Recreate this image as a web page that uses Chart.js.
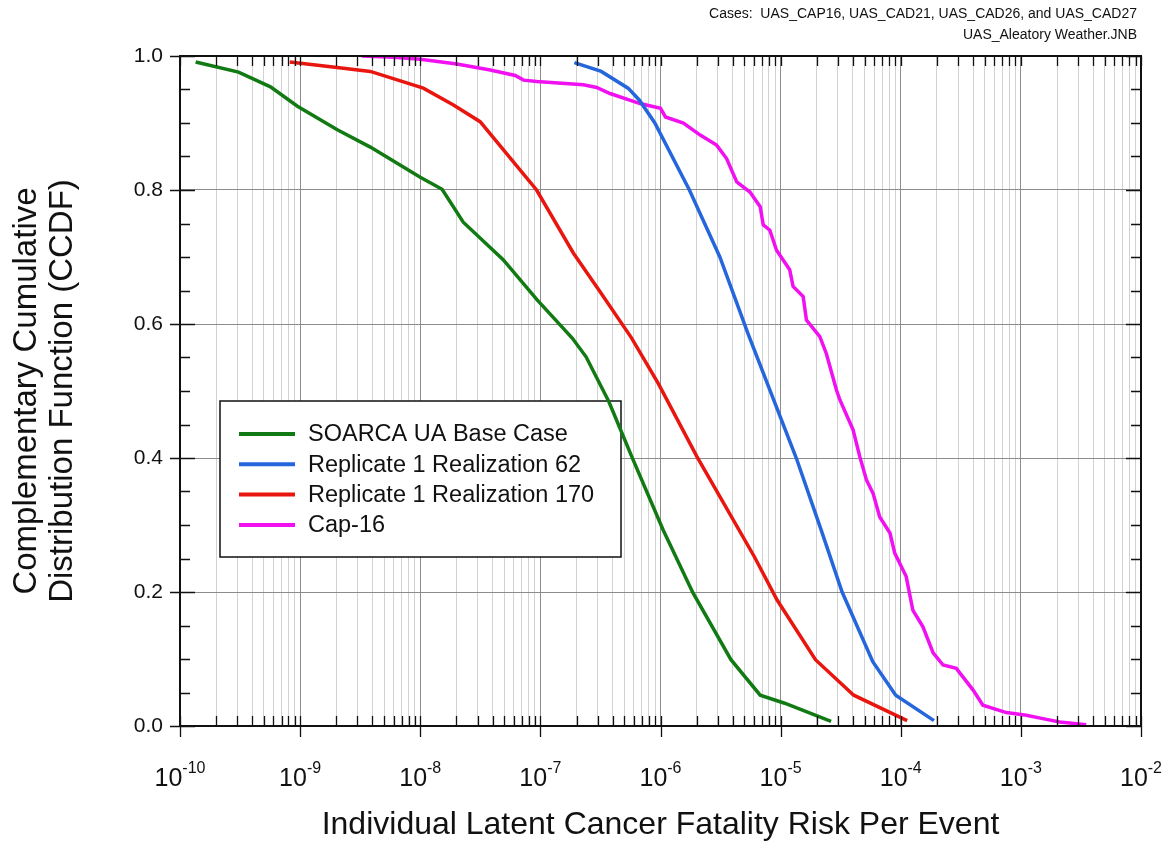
<!DOCTYPE html>
<html>
<head>
<meta charset="utf-8">
<script src="https://cdn.jsdelivr.net/npm/chart.js@4.4.1/dist/chart.umd.min.js"></script>
<style>
  html, body { margin: 0; padding: 0; background: #fff; }
</style>
</head>
<body>
<canvas id="ccdf" width="1172" height="845"></canvas>
<script>
var FONT = "'Liberation Sans', Arial, sans-serif";

// header / axis text
var headerLines = ['Cases:  UAS_CAP16, UAS_CAD21, UAS_CAD26, and UAS_CAD27', 'UAS_Aleatory Weather.JNB'];
var xTitle = 'Individual Latent Cancer Fatality Risk Per Event';
var yTitle = ['Complementary Cumulative', 'Distribution Function (CCDF)'];

// x axis decades (10^exp) and y ticks
var xDecades = [1e-10, 1e-9, 1e-8, 1e-7, 1e-6, 1e-5, 1e-4, 1e-3, 1e-2];
var xExponents = ['-10', '-9', '-8', '-7', '-6', '-5', '-4', '-3', '-2'];
var yTicks = [0, 0.2, 0.4, 0.6, 0.8, 1.0];

var seriesLabels = ['SOARCA UA Base Case', 'Replicate 1 Realization 62', 'Replicate 1 Realization 170', 'Cap-16'];
var seriesColors = ['#127a12', '#2566dc', '#e8160e', '#f010f0'];

// SOARCA UA base case
var baseRisk = [1.35e-10, 3.07e-10, 5.66e-10, 9.5e-10, 2.04e-9, 3.84e-9, 1.0e-8, 1.52e-8, 2.28e-8, 4.9e-8,
  9.4e-8, 1.84e-7, 2.4e-7, 3.72e-7, 5.8e-7, 1.05e-6, 1.86e-6, 3.86e-6, 6.76e-6, 1.08e-5, 2.63e-5];
var baseCcdf = [0.991, 0.976, 0.954, 0.925, 0.89, 0.864, 0.819, 0.801, 0.752, 0.696,
  0.636, 0.579, 0.551, 0.484, 0.401, 0.293, 0.199, 0.099, 0.046, 0.034, 0.007];

// replicate 1 realization 62
var r62Risk = [1.92e-7, 3.21e-7, 5.37e-7, 6.68e-7, 8.97e-7, 1.74e-6, 3.12e-6, 5.37e-6, 1.35e-5, 2.17e-5,
  3.25e-5, 5.85e-5, 9.08e-5, 1.89e-4];
var r62Ccdf = [0.99, 0.977, 0.952, 0.934, 0.9, 0.8, 0.7, 0.585, 0.4, 0.293,
  0.2, 0.096, 0.046, 0.008];

// replicate 1 realization 170
var r170Risk = [8.2e-10, 2.03e-9, 3.84e-9, 1.06e-8, 1.89e-8, 3.15e-8, 4.93e-8, 9.3e-8, 1.88e-7, 3.14e-7,
  5.75e-7, 9.6e-7, 2.01e-6, 3.02e-6, 6.03e-6, 9.35e-6, 1.95e-5, 4.06e-5, 1.13e-4];
var r170Ccdf = [0.991, 0.983, 0.977, 0.952, 0.927, 0.902, 0.86, 0.80, 0.706, 0.648,
  0.579, 0.511, 0.402, 0.347, 0.253, 0.188, 0.099, 0.046, 0.008];

// Cap-16
var capRisk = [3.27e-9, 6.0e-9, 1.0e-8, 2.02e-8, 3.82e-8, 6.17e-8, 7.24e-8, 9.33e-8, 2.28e-7, 2.94e-7,
  3.8e-7, 6.76e-7, 1.0e-6, 1.1e-6, 1.55e-6, 2.14e-6, 2.93e-6, 3.55e-6, 4.31e-6, 5.55e-6,
  6.76e-6, 7.16e-6, 8.13e-6, 9.25e-6, 1.19e-5, 1.27e-5, 1.54e-5, 1.64e-5, 2.12e-5, 2.4e-5,
  2.92e-5, 3.11e-5, 4.01e-5, 4.56e-5, 5.19e-5, 5.89e-5, 6.68e-5, 8.13e-5, 8.91e-5, 1.11e-4,
  1.26e-4, 1.53e-4, 1.86e-4, 2.25e-4, 2.9e-4, 3.99e-4, 4.83e-4, 7.57e-4, 1.11e-3, 1.52e-3,
  2.1e-3, 3.5e-3];
var capCcdf = [1.0, 0.998, 0.995, 0.988, 0.979, 0.971, 0.964, 0.962, 0.957, 0.953,
  0.944, 0.929, 0.922, 0.909, 0.90, 0.882, 0.867, 0.847, 0.812, 0.797,
  0.775, 0.748, 0.74, 0.71, 0.681, 0.656, 0.641, 0.606, 0.581, 0.556,
  0.501, 0.487, 0.442, 0.402, 0.367, 0.347, 0.312, 0.288, 0.258, 0.223,
  0.173, 0.148, 0.109, 0.091, 0.086, 0.054, 0.031, 0.020, 0.016, 0.011,
  0.006, 0.002];

var riskSets = [baseRisk, r62Risk, r170Risk, capRisk];
var ccdfSets = [baseCcdf, r62Ccdf, r170Ccdf, capCcdf];

toPoints = (xs, ys) => xs.map((x, i) => ({ x: x, y: ys[i] }));

isDecade = (v) => {
  var e = Math.log10(v);
  return Math.abs(e - Math.round(e)) < 1e-6;
};

// frame, inside tick marks, x labels, header and legend box
var decorations = {
  id: 'decorations',
  beforeDatasetsDraw(chart) {
    var ctx = chart.ctx;
    var a = chart.chartArea;
    var bx = a.left + 40, by = 401, bw = 401, bh = 156;
    ctx.save();
    ctx.fillStyle = '#fff';
    ctx.fillRect(bx, by, bw, bh);
    ctx.strokeStyle = '#111';
    ctx.lineWidth = 1.5;
    ctx.strokeRect(bx, by, bw, bh);
    ctx.font = '23.5px ' + FONT;
    ctx.textBaseline = 'middle';
    chart.data.datasets.forEach((ds, i) => {
      var yy = by + 33 + i * 30.3;
      ctx.strokeStyle = ds.borderColor;
      ctx.lineWidth = 4;
      ctx.beginPath();
      ctx.moveTo(bx + 19, yy);
      ctx.lineTo(bx + 75, yy);
      ctx.stroke();
      ctx.fillStyle = '#111';
      ctx.fillText(ds.label, bx + 88, yy + 1);
    });
    ctx.restore();
  },
  afterDraw(chart) {
    var ctx = chart.ctx;
    var a = chart.chartArea;
    var xs = chart.scales.x, ys = chart.scales.y;
    ctx.save();
    ctx.strokeStyle = '#111';
    ctx.lineWidth = 1.3;
    ctx.beginPath();
    xs.ticks.forEach((t) => {
      var px = Math.round(xs.getPixelForValue(t.value)) + 0.5;
      ctx.moveTo(px, a.top); ctx.lineTo(px, a.top + 10);
      ctx.moveTo(px, a.bottom); ctx.lineTo(px, a.bottom - 10);
      if (isDecade(t.value)) {
        ctx.moveTo(px, a.bottom); ctx.lineTo(px, a.bottom + 11);
      }
    });
    for (var k = 0; k <= 20; k++) {
      var py = Math.round(ys.getPixelForValue(k * 0.05)) + 0.5;
      if (k % 4 === 0) {
        ctx.moveTo(a.left - 10, py); ctx.lineTo(a.left + 15, py);
        ctx.moveTo(a.right - 15, py); ctx.lineTo(a.right, py);
      } else {
        ctx.moveTo(a.left, py); ctx.lineTo(a.left + 10, py);
        ctx.moveTo(a.right - 10, py); ctx.lineTo(a.right, py);
      }
    }
    ctx.stroke();
    ctx.lineWidth = 2;
    ctx.strokeRect(a.left, a.top, a.right - a.left, a.bottom - a.top);

    // x tick labels 10^n
    ctx.fillStyle = '#111';
    ctx.textBaseline = 'alphabetic';
    xDecades.forEach((v, i) => {
      var px = xs.getPixelForValue(v);
      ctx.font = '25px ' + FONT;
      var w1 = ctx.measureText('10').width;
      ctx.font = '16px ' + FONT;
      var w2 = ctx.measureText(xExponents[i]).width;
      var x0 = px - (w1 + w2) / 2;
      ctx.font = '25px ' + FONT;
      ctx.fillText('10', x0, 786);
      ctx.font = '16px ' + FONT;
      ctx.fillText(xExponents[i], x0 + w1, 773);
    });

    // header lines
    ctx.font = '14px ' + FONT;
    ctx.textAlign = 'right';
    ctx.fillText(headerLines[0], 1137, 18);
    ctx.fillText(headerLines[1], 1137, 39);
    ctx.restore();
  }
};

var chart = new Chart(document.getElementById('ccdf'), {
  type: 'scatter',
  data: {
    datasets: seriesLabels.map((label, i) => ({
      label: label,
      data: toPoints(riskSets[i], ccdfSets[i]),
      showLine: true,
      borderColor: seriesColors[i],
      backgroundColor: seriesColors[i],
      borderWidth: 3.5,
      pointRadius: 0,
      tension: 0,
      fill: false
    }))
  },
  options: {
    responsive: false,
    animation: false,
    devicePixelRatio: 1,
    layout: { padding: { top: 56, right: 31, bottom: 0, left: 0 } },
    plugins: {
      legend: { display: false },
      title: { display: false },
      tooltip: { enabled: false }
    },
    scales: {
      x: {
        type: 'logarithmic',
        min: 1e-10,
        max: 1e-2,
        afterBuildTicks: (scale) => {
          var ticks = [];
          for (var e = -10; e < -2; e++) {
            for (var m = 1; m <= 9; m++) ticks.push({ value: m * Math.pow(10, e) });
          }
          ticks.push({ value: 1e-2 });
          scale.ticks = ticks;
        },
        afterFit: (scale) => { scale.height = 119; },
        ticks: { display: false },
        border: { display: false },
        grid: {
          drawTicks: false,
          lineWidth: 1,
          color: (c) => (c.tick && isDecade(c.tick.value)) ? '#8c8c8c' : '#d2d2d2'
        },
        title: {
          display: true,
          text: xTitle,
          color: '#111',
          font: { family: FONT, size: 32 },
          padding: { top: 0, bottom: 1 }
        }
      },
      y: {
        type: 'linear',
        min: 0,
        max: 1,
        afterBuildTicks: (scale) => { scale.ticks = yTicks.map((v) => ({ value: v })); },
        afterFit: (scale) => { scale.width = 180; },
        ticks: {
          color: '#111',
          font: { family: FONT, size: 21 },
          padding: 17,
          callback: (v) => Number(v).toFixed(1)
        },
        border: { display: false },
        grid: { drawTicks: false, color: '#8c8c8c', lineWidth: 1 },
        title: {
          display: true,
          text: yTitle,
          color: '#111',
          font: { family: FONT, size: 33, lineHeight: 1.08 },
          padding: { top: 9, bottom: 0 }
        }
      }
    }
  },
  plugins: [decorations]
});
</script>
</body>
</html>
